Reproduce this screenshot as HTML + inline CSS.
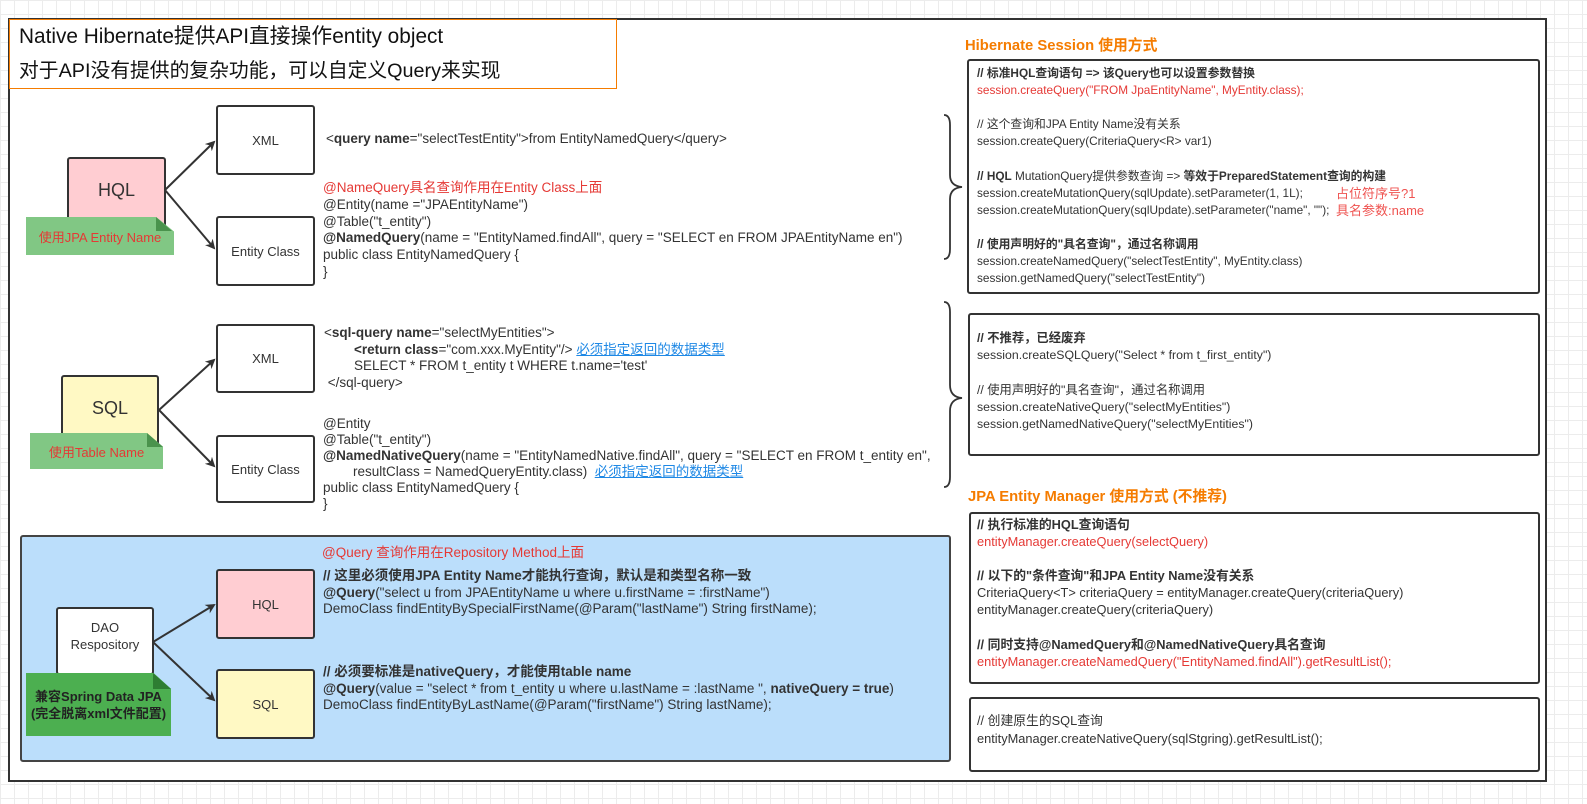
<!DOCTYPE html>
<html><head><meta charset="utf-8"><style>
html,body{margin:0;padding:0;}
body{width:1587px;height:804px;position:relative;overflow:hidden;background:#fff;
background-image:linear-gradient(#ececec 1px,transparent 1px),linear-gradient(90deg,#ececec 1px,transparent 1px);background-size:14px 14px;
font-family:"Liberation Sans","Noto Sans CJK SC",sans-serif;color:#333;}
.t{position:absolute;white-space:pre;font-size:13.5px;line-height:16.5px;color:#333;}
.rt{font-size:11.8px;}
.r{color:#e53935;}
.b{font-weight:bold;}
.u{color:#1e88e5;text-decoration:underline;}
.box{position:absolute;box-sizing:border-box;border:2px solid #333;border-radius:3px;display:flex;align-items:center;justify-content:center;text-align:center;font-size:13px;color:#333;background:#fff;}
.note{position:absolute;box-sizing:border-box;display:flex;align-items:center;justify-content:center;text-align:center;font-size:13px;}
.h{position:absolute;color:#f57c00;font-weight:bold;font-size:14.8px;white-space:pre;}
svg{position:absolute;left:0;top:0;}
</style></head><body>
<div style="position:absolute;left:8px;top:18px;width:1539px;height:764px;box-sizing:border-box;border:2px solid #333;background:#fff;"></div>
<div style="position:absolute;left:9px;top:19px;width:608px;height:70px;box-sizing:border-box;border:1px solid #f57c00;background:#fff;"></div>
<div class="t" style="left:19px;top:24px;font-size:20.8px;line-height:25px;color:#111;">Native Hibernate提供API直接操作entity object</div>
<div class="t" style="left:19px;top:59px;font-size:19.8px;line-height:25px;color:#111;">对于API没有提供的复杂功能，可以自定义Query来实现</div>

<div style="position:absolute;left:20px;top:535px;width:931px;height:227px;box-sizing:border-box;border:2px solid #444;border-radius:3px;background:#bbdefb;"></div>

<svg width="1587" height="804">
<defs><marker id="a" markerWidth="10" markerHeight="10" refX="8" refY="5" orient="auto" markerUnits="userSpaceOnUse"><path d="M0,0 L10,5 L0,10 L3,5 z" fill="#333"/></marker></defs>
<g stroke="#333" stroke-width="2" fill="none">
<line x1="165" y1="190" x2="214" y2="142" marker-end="url(#a)"/>
<line x1="165" y1="190" x2="214" y2="248" marker-end="url(#a)"/>
<line x1="159" y1="410" x2="214" y2="360" marker-end="url(#a)"/>
<line x1="159" y1="410" x2="214" y2="466" marker-end="url(#a)"/>
<line x1="153" y1="642" x2="214" y2="605" marker-end="url(#a)"/>
<line x1="153" y1="642" x2="214" y2="700" marker-end="url(#a)"/>
<path d="M944,115 Q950,115 950,125 L950,175 Q950,186 962,187 Q950,188 950,199 L950,249 Q950,259 944,259" stroke-width="1.8"/>
<path d="M944,302 Q950,302 950,312 L950,385 Q950,397 962,398 Q950,399 950,411 L950,477 Q950,487 944,487" stroke-width="1.8"/>
</g>
</svg>

<div class="box" style="left:67px;top:157px;width:99px;height:74px;background:#ffcdd2;font-size:18px;padding-bottom:8px;">HQL</div>
<div class="note" style="left:26px;top:217px;width:148px;height:38px;background:#81c784;color:#e53935;clip-path:polygon(0 0,88% 0,100% 38%,100% 100%,0 100%);">使用JPA Entity Name</div>
<div style="position:absolute;left:156px;top:217px;width:0;height:0;border-left:16px solid #4a934d;border-top:14px solid transparent;"></div>

<div class="box" style="left:216px;top:105px;width:99px;height:70px;">XML</div>
<div class="box" style="left:216px;top:216px;width:99px;height:70px;">Entity Class</div>
<div class="t" style="left:326px;top:131px;">&lt;<span class="b">query name</span>="selectTestEntity"&gt;from EntityNamedQuery&lt;/query&gt;</div>
<div class="t" style="left:323px;top:180px;line-height:16.8px;"><span class="r">@NameQuery具名查询作用在Entity Class上面</span>
@Entity(name ="JPAEntityName")
@Table("t_entity")
<span class="b">@NamedQuery</span>(name = "EntityNamed.findAll", query = "SELECT en FROM JPAEntityName en")
public class EntityNamedQuery {
}</div>

<div class="box" style="left:61px;top:375px;width:98px;height:72px;background:#fff9c4;font-size:18px;padding-bottom:6px;">SQL</div>
<div class="note" style="left:30px;top:433px;width:133px;height:36px;background:#81c784;color:#e53935;clip-path:polygon(0 0,88% 0,100% 38%,100% 100%,0 100%);">使用Table Name</div>
<div style="position:absolute;left:147px;top:433px;width:0;height:0;border-left:16px solid #4a934d;border-top:14px solid transparent;"></div>

<div class="box" style="left:216px;top:324px;width:99px;height:69px;">XML</div>
<div class="box" style="left:216px;top:435px;width:99px;height:68px;">Entity Class</div>
<div class="t" style="left:324px;top:325px;">&lt;<span class="b">sql-query name</span>="selectMyEntities"&gt;
        <span class="b">&lt;return class</span>="com.xxx.MyEntity"/&gt; <span class="u">必须指定返回的数据类型</span>
        SELECT * FROM t_entity t WHERE t.name='test'
 &lt;/sql-query&gt;</div>
<div class="t" style="left:323px;top:416px;line-height:16px;">@Entity
@Table("t_entity")
<span class="b">@NamedNativeQuery</span>(name = "EntityNamedNative.findAll", query = "SELECT en FROM t_entity en",
        resultClass = NamedQueryEntity.class)  <span class="u">必须指定返回的数据类型</span>
public class EntityNamedQuery {
}</div>

<div class="box" style="left:56px;top:607px;width:98px;height:68px;align-items:flex-start;padding-top:10px;line-height:17px;">DAO<br>Respository</div>
<div class="note" style="left:26px;top:673px;width:145px;height:63px;background:#4caf50;color:#222;font-weight:bold;line-height:17px;clip-path:polygon(0 0,88% 0,100% 25%,100% 100%,0 100%);">兼容Spring Data JPA<br>(完全脱离xml文件配置)</div>
<div style="position:absolute;left:153px;top:673px;width:0;height:0;border-left:18px solid #2e7d32;border-top:16px solid transparent;"></div>

<div class="box" style="left:216px;top:569px;width:99px;height:70px;background:#ffcdd2;">HQL</div>
<div class="box" style="left:216px;top:669px;width:99px;height:70px;background:#fff9c4;">SQL</div>
<div class="t" style="left:322px;top:545px;"><span class="r">@Query 查询作用在Repository Method上面</span></div>
<div class="t" style="left:323px;top:568px;"><span class="b">// 这里必须使用JPA Entity Name才能执行查询，默认是和类型名称一致</span>
<span class="b">@Query</span>("select u from JPAEntityName u where u.firstName = :firstName")
DemoClass findEntityBySpecialFirstName(@Param("lastName") String firstName);</div>
<div class="t" style="left:323px;top:664px;"><span class="b">// 必须要标准是nativeQuery，才能使用table name</span>
<span class="b">@Query</span>(value = "select * from t_entity u where u.lastName = :lastName ", <span class="b">nativeQuery = true</span>)
DemoClass findEntityByLastName(@Param("firstName") String lastName);</div>

<div class="h" style="left:965px;top:34px;">Hibernate Session 使用方式</div>
<div class="box" style="left:967px;top:59px;width:573px;height:235px;display:block;"></div>
<div class="t rt" style="left:977px;top:65px;line-height:17.1px;"><span class="b">// 标准HQL查询语句 =&gt; 该Query也可以设置参数替换</span>
<span class="r">session.createQuery("FROM JpaEntityName", MyEntity.class);</span>

// 这个查询和JPA Entity Name没有关系
session.createQuery(CriteriaQuery&lt;R&gt; var1)

<span class="b">// HQL</span> MutationQuery提供参数查询 =&gt; <span class="b">等效于PreparedStatement查询的构建</span>
session.createMutationQuery(sqlUpdate).setParameter(1, 1L);
session.createMutationQuery(sqlUpdate).setParameter("name", "");

<span class="b">// 使用声明好的"具名查询"，通过名称调用</span>
session.createNamedQuery("selectTestEntity", MyEntity.class)
session.getNamedQuery("selectTestEntity")</div>
<div class="t" style="left:1336px;top:185px;color:#ef5350;line-height:17.1px;font-size:13px;">占位符序号?1
具名参数:name</div>

<div class="box" style="left:968px;top:313px;width:572px;height:143px;display:block;"></div>
<div class="t rt" style="left:977px;top:330px;line-height:17.2px;font-size:12.3px;"><span class="b">// 不推荐，已经废弃</span>
session.createSQLQuery("Select * from t_first_entity")

// 使用声明好的"具名查询"，通过名称调用
session.createNativeQuery("selectMyEntities")
session.getNamedNativeQuery("selectMyEntities")</div>

<div class="h" style="left:968px;top:485px;">JPA Entity Manager 使用方式 (不推荐)</div>
<div class="box" style="left:969px;top:512px;width:571px;height:172px;display:block;"></div>
<div class="t" style="left:977px;top:516px;line-height:17.1px;font-size:12.8px;"><span class="b">// 执行标准的HQL查询语句</span>
<span class="r">entityManager.createQuery(selectQuery)</span>

<span class="b">// 以下的"条件查询"和JPA Entity Name没有关系</span>
CriteriaQuery&lt;T&gt; criteriaQuery = entityManager.createQuery(criteriaQuery)
entityManager.createQuery(criteriaQuery)

<span class="b">// 同时支持@NamedQuery和@NamedNativeQuery具名查询</span>
<span class="r">entityManager.createNamedQuery("EntityNamed.findAll").getResultList();</span></div>

<div class="box" style="left:969px;top:697px;width:571px;height:75px;display:block;"></div>
<div class="t" style="left:977px;top:712px;line-height:17.5px;font-size:12.8px;">// 创建原生的SQL查询
entityManager.createNativeQuery(sqlStgring).getResultList();</div>
</body></html>
